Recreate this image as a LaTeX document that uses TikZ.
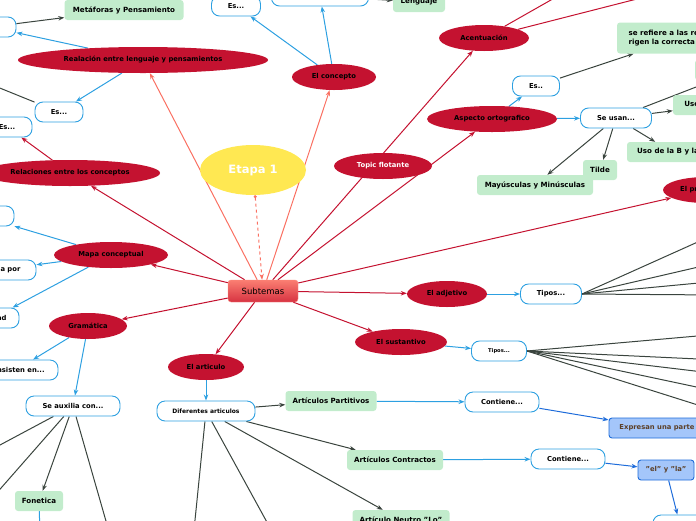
\documentclass[tikz,border=0pt]{standalone}
\usepackage{fontspec}
\setmainfont{DejaVu Sans}
\usetikzlibrary{shapes.geometric,arrows.meta,backgrounds}

\definecolor{topicred}{RGB}{196,18,48}
\definecolor{salmon}{RGB}{250,112,98}
\definecolor{skyblue}{RGB}{45,160,225}
\definecolor{leafgreen}{RGB}{194,236,204}
\definecolor{darkline}{RGB}{58,68,62}
\definecolor{notefill}{RGB}{164,198,250}
\definecolor{notedraw}{RGB}{30,108,218}
\definecolor{notetext}{RGB}{92,64,40}
\definecolor{sunyellow}{RGB}{255,232,82}

\tikzset{
  lbl/.style={font=\fontsize{6.8}{8}\selectfont\bfseries},
  root/.style={ellipse, fill=sunyellow, inner sep=0pt, minimum width=106pt, minimum height=50pt,
    text=white, font=\fontsize{11.5}{13}\selectfont\bfseries},
  subt/.style={rectangle, rounded corners=3pt, top color=salmon!90!white, bottom color=topicred!65!salmon,
    draw=salmon!80!white, minimum width=70pt, minimum height=22pt, font=\fontsize{8.5}{10}\selectfont},
  topic/.style={ellipse, fill=topicred, inner sep=0pt, minimum height=26pt, lbl},
  ask/.style={rectangle, rounded corners=8pt, draw=skyblue, fill=white, line width=0.9pt,
    minimum height=20pt, inner sep=0pt, lbl},
  leaf/.style={rectangle, rounded corners=3pt, fill=leafgreen, minimum height=20pt, inner sep=0pt,
    font=\fontsize{7.1}{8.6}\selectfont\bfseries},
  note/.style={rectangle, rounded corners=3pt, fill=notefill, draw=notedraw, line width=0.9pt,
    minimum height=20pt, inner sep=0pt, text=notetext, lbl},
  tip/.style={-{Stealth[length=6pt,width=4.5pt]}},
  redlink/.style={draw=topicred, line width=1pt, tip},
  salmonlink/.style={draw=salmon, line width=1pt, tip},
  bluelink/.style={draw=skyblue, line width=1pt, tip},
  notelink/.style={draw=notedraw, line width=1pt, tip},
  darklink/.style={draw=darkline, line width=1pt, tip},
}

\begin{document}
\begin{tikzpicture}[x=1pt, y=-1pt]
  \useasboundingbox (0,0) rectangle (696,520);
  \clip (0,0) rectangle (696,520);

  % main topics
  \node[root] (etapa) at (253,170) {Etapa 1};
  \node[subt] (subtemas) at (263,291) {Subtemas};

  \node[topic, minimum width=250pt] (relacion) at (143,60) {Realación entre lenguaje y pensamientos};
  \node[topic, minimum width=84pt] (concepto) at (334,77) {El concepto};
  \node[topic, minimum width=180pt] (relaciones) at (70,173) {Relaciones entre los conceptos};
  \node[topic, minimum width=114pt] (mapa) at (111,255) {Mapa conceptual};
  \node[topic, minimum width=78pt] (gramatica) at (88,326) {Gramática};
  \node[topic, minimum width=76pt] (articulo) at (206,367) {El articulo};
  \node[topic, minimum width=92pt] (sustantivo) at (401,342) {El sustantivo};
  \node[topic, minimum width=80pt] (adjetivo) at (447,294) {El adjetivo};
  \node[topic, minimum width=98pt, text=white] (flotante) at (383,166) {Topic flotante};
  \node[topic, minimum width=90pt] (acento) at (484,38) {Acentuación};
  \node[topic, minimum width=130pt] (ortografia) at (492,119) {Aspecto ortografico};
  \node[topic, minimum width=86pt] (pronombre) at (706,190) {El pronombre};

  % subtopics
  \node[ask, minimum width=49pt] (esA) at (236,6) {Es...};
  \node[ask, minimum width=97pt] (topbox) at (320,-4) {};
  \node[ask, minimum width=52pt] (esB) at (-10,27) {};
  \node[ask, minimum width=48pt] (esC) at (59,112) {Es...};
  \node[ask, minimum width=50pt] (esD) at (7,127) {Es...};
  \node[ask, minimum width=68pt] (mapaA) at (-20,216) {};
  \node[ask, minimum width=80pt] (mapaB) at (-4,270) {Formada por};
  \node[ask, minimum width=52pt] (mapaC) at (-7,318) {Unidad};
  \node[ask, minimum width=84pt] (gramA) at (16,370) {Consisten en...};
  \node[ask, minimum width=94pt] (auxilia) at (73,406) {Se auxilia con...};
  \node[ask, minimum width=98pt, font=\fontsize{6}{7}\selectfont\bfseries] (diferentes) at (206,411) {Diferentes articulos};
  \node[ask, minimum width=74pt] (contieneA) at (502,402) {Contiene...};
  \node[ask, minimum width=74pt] (contieneB) at (568,459) {Contiene...};
  \node[ask, minimum width=55pt, font=\fontsize{5.2}{6}\selectfont\bfseries] (tiposS) at (499,351) {Tipos...};
  \node[ask, minimum width=61pt] (tiposA) at (551,294) {Tipos...};
  \node[ask, minimum width=47pt] (esE) at (536,86) {Es..};
  \node[ask, minimum width=71pt] (usan) at (616,118) {Se usan...};
  \node[ask, minimum width=54pt] (bottomR) at (680,525) {};

  \node[leaf, minimum width=119pt] (metaforas) at (124,10) {Metáforas y Pensamiento};
  \node[leaf, minimum width=52pt] (lenguaje) at (419,2) {Lenguaje};
  \node[leaf, minimum width=91pt] (partitivos) at (331,401) {Artículos Partitivos};
  \node[leaf, minimum width=96pt] (contractos) at (395,460) {Artículos Contractos};
  \node[leaf, minimum width=97pt] (neutro) at (401,520) {Artículo Neutro "Lo"};
  \node[leaf, minimum width=48pt] (fonetica) at (39,501) {Fonetica};
  \node[leaf, minimum width=116pt] (mayus) at (535,185) {Mayúsculas y Minúsculas};
  \node[leaf, minimum width=34pt] (tilde) at (600,170) {Tilde};
  \node[leaf, minimum width=90pt] (usoBV) at (672,152) {Uso de la B y la V};
  \node[leaf, minimum width=90pt] (usoGJ) at (718,105) {Uso de la G y la J};
  \node[leaf, minimum width=128pt, minimum height=31pt, align=left] (reglas) at (681,38)
    {se refiere a las reglas que\\rigen la correcta escritura};
  \node[leaf, minimum width=90pt] (rightLeaf) at (740,70) {};

  \node[note, minimum width=96pt] (parte) at (657,428) {Expresan una parte};
  \node[note, minimum width=56pt] (elyla) at (666,470) {"el" y "la"};

  % loose ends leaving the frame
  \coordinate (offA) at (565,-8);
  \coordinate (offB) at (680,-12);
  \coordinate (offC) at (-20,80);
  \coordinate (offD) at (-30,461);
  \coordinate (offE) at (-20,512);
  \coordinate (offF) at (110,535);
  \coordinate (offG) at (40,535);
  \coordinate (offH) at (193,540);
  \coordinate (offI) at (274,535);

  \begin{scope}[on background layer]
    \clip (0,0) rectangle (696,520);
    \draw[salmon, line width=1pt, dashed, {Circle[length=3pt]}-{Stealth[length=6pt,width=4.5pt]}]
      (etapa) -- (subtemas);
    \draw[salmonlink] (subtemas) -- (relacion);
    \draw[salmonlink] (subtemas) -- (concepto);

    \draw[redlink] (subtemas) -- (relaciones);
    \draw[redlink] (subtemas) -- (mapa);
    \draw[redlink] (subtemas) -- (gramatica);
    \draw[redlink] (subtemas) -- (articulo);
    \draw[redlink] (subtemas) -- (sustantivo);
    \draw[redlink] (subtemas) -- (adjetivo);
    \draw[redlink] (subtemas) -- (pronombre);
    \draw[redlink] (subtemas) -- (acento);
    \draw[redlink] (subtemas) -- (ortografia);
    \draw[redlink] (acento) -- (offA);
    \draw[redlink] (acento) -- (offB);
    \draw[redlink] (relaciones) -- (esD);

    \draw[bluelink] (concepto) -- (esA);
    \draw[bluelink] (concepto) -- (topbox);
    \draw[bluelink] (relacion) -- (esB);
    \draw[bluelink] (relacion) -- (esC);
    \draw[bluelink] (mapa) -- (mapaA);
    \draw[bluelink] (mapa) -- (mapaB);
    \draw[bluelink] (mapa) -- (mapaC);
    \draw[bluelink] (gramatica) -- (gramA);
    \draw[bluelink] (gramatica) -- (auxilia);
    \draw[bluelink] (articulo) -- (diferentes);
    \draw[bluelink] (sustantivo) -- (tiposS);
    \draw[bluelink] (adjetivo) -- (tiposA);
    \draw[bluelink] (ortografia) -- (esE);
    \draw[bluelink] (ortografia) -- (usan);
    \draw[bluelink] (partitivos) -- (contieneA);
    \draw[bluelink] (contractos) -- (contieneB);
    \draw[bluelink] (fonetica) -- (offG);

    \draw[notelink] (contieneA) -- (parte);
    \draw[notelink] (contieneB) -- (elyla);
    \draw[notelink] (elyla) -- (bottomR);

    \draw[darklink] (topbox) -- (lenguaje);
    \draw[darklink] (esB) -- (metaforas);
    \draw[darklink] (esC) -- (offC);
    \draw[darklink] (auxilia) -- (offD);
    \draw[darklink] (auxilia) -- (offE);
    \draw[darklink] (auxilia) -- (fonetica);
    \draw[darklink] (auxilia) -- (offF);
    \draw[darklink] (diferentes) -- (partitivos);
    \draw[darklink] (diferentes) -- (contractos);
    \draw[darklink] (diferentes) -- (neutro);
    \draw[darklink] (diferentes) -- (offH);
    \draw[darklink] (diferentes) -- (offI);
    \draw[darklink] (esE) -- (reglas);
    \draw[darklink] (usan) -- (mayus);
    \draw[darklink] (usan) -- (tilde);
    \draw[darklink] (usan) -- (usoBV);
    \draw[darklink] (usan) -- (usoGJ);
    \draw[darklink] (usan) -- (rightLeaf);
    \foreach \y in {232,262,281,295}
      \draw[darklink] (tiposA.east) -- (720,\y);
    \foreach \y in {334,360,374,392,412}
      \draw[darklink] (tiposS.east) -- (720,\y);
  \end{scope}
\end{tikzpicture}
\end{document}
